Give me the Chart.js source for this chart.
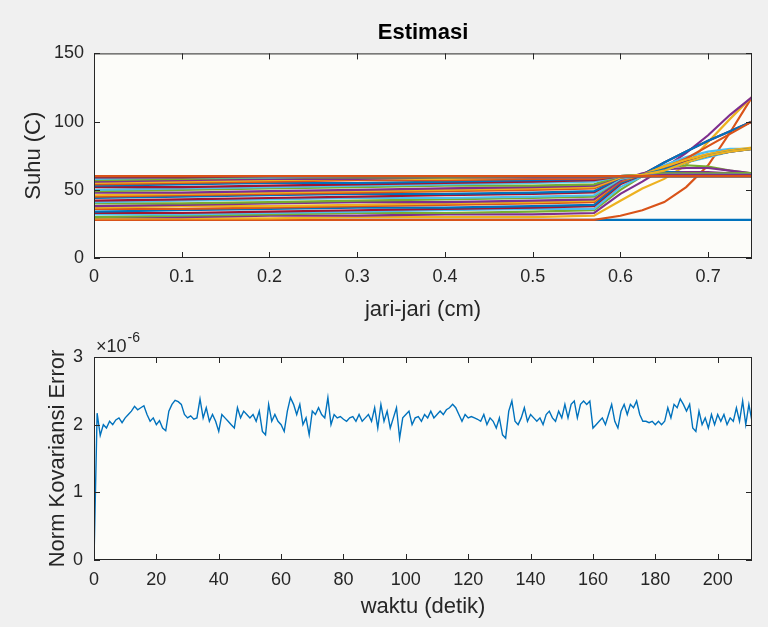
<!DOCTYPE html>
<html>
<head>
<meta charset="utf-8">
<title>Estimasi</title>
<script src="https://cdn.jsdelivr.net/npm/chart.js@4.4.1/dist/chart.umd.min.js"></script>
<style>
    html, body { margin: 0; padding: 0; background: #f0f0f0; }
    #wrap { position: relative; width: 768px; height: 627px; }
    canvas { position: absolute; left: 0; }
</style>
</head>
<body>
<div id="wrap">
    <canvas id="suhuChart" width="768" height="330" style="top:0"></canvas>
    <canvas id="errorChart" width="768" height="297" style="top:330px"></canvas>
</div>
<script>
// Jari-jari (cm) grid for the temperature profiles
const jariJari = [0, 0.1, 0.2, 0.3, 0.4, 0.5, 0.57, 0.6, 0.625, 0.65, 0.675, 0.7, 0.725, 0.75];

// Temperature profiles (C), one row per estimate
const profilSuhu = [
    [28, 28, 28, 28, 28, 28, 28, 28, 28, 28, 28, 28, 28, 28],
    [28, 28, 28, 28, 28, 28, 28, 31, 35, 41, 52, 68, 92, 118],
    [29, 29, 29, 30, 30, 30, 31, 42, 51, 58, 68, 85, 102, 118],
    [30, 30, 31, 31, 32, 32, 33, 47, 56, 66, 77, 90, 105, 118],
    [30, 31, 32, 33, 33, 34, 35, 50, 60, 66, 68, 67, 64, 62],
    [32, 32, 33, 34, 35, 36, 36, 52, 60, 68, 74, 78, 80, 80],
    [33, 33, 34, 35, 36, 37, 38, 54, 61, 70, 78, 86, 93, 100],
    [34, 35, 36, 37, 37, 38, 39, 55, 61, 70, 78, 86, 93, 100],
    [36, 36, 37, 38, 39, 40, 41, 56, 61, 67, 72, 76, 79, 80],
    [37, 38, 38, 39, 40, 41, 42, 57, 61, 67, 72, 76, 79, 81],
    [38, 39, 40, 41, 41, 42, 43, 57, 62, 65, 66, 66, 64, 62],
    [40, 40, 41, 42, 43, 44, 45, 58, 61, 62, 62, 62, 62, 62],
    [41, 42, 43, 44, 44, 45, 46, 58, 61, 64, 70, 74, 78, 80],
    [42, 43, 44, 45, 46, 47, 48, 59, 61, 66, 71, 75, 78, 80],
    [44, 45, 46, 47, 47, 48, 49, 59, 61, 63, 63, 62, 61, 61],
    [45, 46, 47, 48, 49, 50, 51, 59, 60, 66, 73, 82, 91, 100],
    [46, 47, 48, 49, 50, 51, 52, 59, 61, 67, 72, 76, 79, 80],
    [48, 48, 49, 50, 51, 52, 53, 60, 61, 62, 63, 63, 62, 61],
    [49, 50, 51, 52, 53, 53, 54, 60, 61, 62, 62, 62, 62, 62],
    [50, 51, 52, 53, 54, 55, 56, 60, 60, 61, 61, 61, 61, 61],
    [52, 52, 53, 54, 55, 56, 57, 60, 60, 60, 60, 60, 60, 60],
    [53, 54, 55, 55, 56, 57, 58, 60, 61, 65, 70, 75, 78, 80],
    [54, 55, 56, 57, 57, 58, 58, 60, 60, 60, 60, 60, 60, 60],
    [55, 56, 57, 58, 58, 59, 59, 60, 61, 64, 70, 75, 78, 80],
    [56, 57, 58, 58, 59, 59, 59, 60, 60, 61, 61, 61, 61, 61],
    [57, 58, 59, 59, 59, 60, 60, 60, 60, 60, 60, 60, 60, 60],
    [58, 59, 59, 60, 60, 60, 60, 60, 60, 60, 60, 60, 60, 60],
    [59, 59, 60, 60, 60, 60, 60, 60, 60, 60, 60, 60, 60, 60],
    [60, 60, 60, 60, 60, 60, 60, 60, 60, 60, 60, 60, 60, 60],
    [60, 60, 60, 60, 60, 60, 60, 60, 60, 60, 60, 60, 60, 60]
];

// Norm kovariansi error (x 1e-6), one value per second, t = 0..211
const normKovarian = [
    0, 2.17, 1.84, 2.0, 1.95, 2.05, 2.0, 2.07, 2.1, 2.03,
    2.1, 2.15, 2.2, 2.27, 2.22, 2.25, 2.28, 2.15, 2.05, 2.1,
    2.0, 2.06, 1.95, 1.91, 2.2, 2.3, 2.36, 2.34, 2.3, 2.15,
    2.1, 2.13, 2.08, 2.1, 2.38, 2.1, 2.25, 2.05, 2.15, 2.05,
    1.9, 2.15, 2.1, 2.05, 2.0, 1.95, 2.25, 2.1, 2.2, 2.15,
    2.1, 2.15, 2.05, 2.2, 1.9, 1.85, 2.3, 2.05, 2.15, 2.05,
    2.0, 1.9, 2.2, 2.4, 2.3, 2.15, 2.3, 2.0, 2.1, 1.85,
    2.2, 2.15, 2.25, 2.15, 2.1, 2.4, 2.0, 2.15, 2.1, 2.12,
    2.08, 2.05, 2.1, 2.12, 2.05, 2.15, 2.05, 2.1, 2.15, 2.05,
    2.25, 1.95, 2.3, 2.05, 2.2, 1.95, 2.1, 2.25, 1.8, 2.1,
    2.15, 2.2, 2.0, 2.1, 2.12, 2.05, 2.15, 2.1, 2.2, 2.1,
    2.15, 2.2, 2.15, 2.22, 2.25, 2.3, 2.25, 2.15, 2.05, 2.15,
    2.1, 2.12, 2.1, 2.08, 2.05, 2.15, 2.0, 2.1, 2.05, 1.95,
    2.1, 1.85, 1.8, 2.2, 2.35, 2.05, 2.0, 2.1, 2.25, 2.05,
    2.15, 2.1, 2.05, 2.1, 2.0, 2.15, 2.2, 2.1, 2.05, 2.2,
    2.1, 2.3, 2.1, 2.3, 2.35, 2.1, 2.3, 2.35, 2.3, 2.35,
    1.95, 2.0, 2.05, 2.1, 2.0, 2.15, 2.3, 2.05, 1.95, 2.2,
    2.3, 2.15, 2.3, 2.25, 2.35, 2.15, 2.05, 2.05, 2.03, 2.05,
    2.0, 2.05, 2.0, 2.05, 2.25, 2.1, 2.3, 2.25, 2.38, 2.3,
    2.2, 2.3, 1.95, 1.9, 2.2, 2.0, 2.1, 1.95, 2.15, 2.0,
    2.15, 2.05, 2.15, 2.0, 2.1, 2.05, 2.25, 2.05, 2.35, 2.0,
    2.3, 2.05
];

// Tick labels
const jariTicks = [0, 0.1, 0.2, 0.3, 0.4, 0.5, 0.6, 0.7];
const suhuTicks = [0, 50, 100, 150];
const waktuTicks = [0, 20, 40, 60, 80, 100, 120, 140, 160, 180, 200];
const errorTicks = [0, 1, 2, 3];

// MATLAB default line colors
const matlabColors = ['#0072BD', '#D95319', '#EDB120', '#7E2F8E', '#77AC30', '#4DBEEE', '#A2142F'];

const FONT = 'Liberation Sans, Arial, Helvetica, sans-serif';
const TEXT_COLOR = '#262626';

// Plot background, box and inward ticks like a MATLAB axes
const matlabAxes = {
    id: 'matlabAxes',
    beforeDatasetsDraw(chart) {
        const { ctx, chartArea: a } = chart;
        ctx.save();
        ctx.fillStyle = '#fcfcf9';
        ctx.fillRect(a.left, a.top, a.right - a.left, a.bottom - a.top);
        ctx.restore();
    },
    afterDatasetsDraw(chart, args, opts) {
        const { ctx, chartArea: a, scales } = chart;
        const len = 6;
        ctx.save();
        ctx.strokeStyle = TEXT_COLOR;
        ctx.lineWidth = 1;
        ctx.strokeRect(a.left + 0.5, a.top + 0.5, a.right - a.left - 1, a.bottom - a.top - 1);
        ctx.beginPath();
        scales.x.ticks.forEach(t => {
            const px = Math.round(scales.x.getPixelForValue(t.value)) + 0.5;
            ctx.moveTo(px, a.bottom); ctx.lineTo(px, a.bottom - len);
            ctx.moveTo(px, a.top); ctx.lineTo(px, a.top + len);
        });
        scales.y.ticks.forEach(t => {
            const py = Math.round(scales.y.getPixelForValue(t.value)) + 0.5;
            ctx.moveTo(a.left, py); ctx.lineTo(a.left + len, py);
            ctx.moveTo(a.right, py); ctx.lineTo(a.right - len, py);
        });
        ctx.stroke();

        // exponent label above the y axis
        if (opts.exponent) {
            ctx.fillStyle = TEXT_COLOR;
            ctx.textBaseline = 'alphabetic';
            ctx.textAlign = 'left';
            ctx.font = '18px ' + FONT;
            ctx.fillText('\u00d710', a.left + 2, a.top - 5);
            const w = ctx.measureText('\u00d710').width;
            ctx.font = '14px ' + FONT;
            ctx.fillText(opts.exponent, a.left + 3 + w, a.top - 15);
        }
        ctx.restore();
    }
};

function tickFont() {
    return { family: FONT, size: 18 };
}

function titleFont() {
    return { family: FONT, size: 22 };
}

// Top chart: Estimasi
const suhuDatasets = profilSuhu.map((row, i) => ({
    label: 'profil ' + (i + 1),
    data: row.map((v, j) => ({ x: jariJari[j], y: v })),
    borderColor: matlabColors[i % matlabColors.length],
    borderWidth: 2.2,
    pointRadius: 0,
    tension: 0,
    order: profilSuhu.length - i
}));

new Chart(document.getElementById('suhuChart'), {
    type: 'line',
    data: { datasets: suhuDatasets },
    plugins: [matlabAxes],
    options: {
        responsive: false,
        animation: false,
        layout: { padding: { left: 0, right: 16, top: 0, bottom: 0 } },
        plugins: {
            legend: { display: false },
            tooltip: { enabled: false },
            title: {
                display: true,
                text: 'Estimasi',
                fullSize: false,
                color: '#000',
                font: { family: FONT, size: 22, weight: 'bold' },
                padding: { top: 20, bottom: 7 }
            },
            matlabAxes: {}
        },
        scales: {
            x: {
                type: 'linear',
                min: 0,
                max: 0.75,
                grid: { display: false, drawTicks: false },
                border: { display: false },
                afterBuildTicks: s => { s.ticks = jariTicks.map(v => ({ value: v })); },
                ticks: { color: TEXT_COLOR, font: tickFont(), padding: 8, maxRotation: 0, autoSkip: false, callback: v => String(v) },
                title: { display: true, text: 'jari-jari (cm)', color: TEXT_COLOR, font: titleFont(), padding: { top: 2, bottom: 7 } },
                afterFit: s => { s.height = 72; }
            },
            y: {
                type: 'linear',
                min: 0,
                max: 150,
                grid: { display: false, drawTicks: false },
                border: { display: false },
                afterBuildTicks: s => { s.ticks = suhuTicks.map(v => ({ value: v })); },
                ticks: { color: TEXT_COLOR, font: tickFont(), padding: 10, callback: v => String(v) },
                title: { display: true, text: 'Suhu (C)', color: TEXT_COLOR, font: titleFont(), padding: { top: 21, bottom: 0 } },
                afterFit: s => { s.width = 94; }
            }
        }
    }
});

// Bottom chart: norm kovariansi error
const errorPoints = normKovarian.map((v, t) => ({ x: t, y: v }));

new Chart(document.getElementById('errorChart'), {
    type: 'line',
    data: {
        datasets: [{
            label: 'Norm Kovariansi Error',
            data: errorPoints,
            borderColor: '#0072BD',
            borderWidth: 1.4,
            pointRadius: 0,
            tension: 0
        }]
    },
    plugins: [matlabAxes],
    options: {
        responsive: false,
        animation: false,
        layout: { padding: { left: 0, right: 16, top: 27, bottom: 0 } },
        plugins: {
            legend: { display: false },
            tooltip: { enabled: false },
            matlabAxes: { exponent: '-6' }
        },
        scales: {
            x: {
                type: 'linear',
                min: 0,
                max: 211,
                grid: { display: false, drawTicks: false },
                border: { display: false },
                afterBuildTicks: s => { s.ticks = waktuTicks.map(v => ({ value: v })); },
                ticks: { color: TEXT_COLOR, font: tickFont(), padding: 9, maxRotation: 0, autoSkip: false, callback: v => String(v) },
                title: { display: true, text: 'waktu (detik)', color: TEXT_COLOR, font: titleFont(), padding: { top: 2, bottom: 7 } },
                afterFit: s => { s.height = 67; }
            },
            y: {
                type: 'linear',
                min: 0,
                max: 3,
                grid: { display: false, drawTicks: false },
                border: { display: false },
                afterBuildTicks: s => { s.ticks = errorTicks.map(v => ({ value: v })); },
                ticks: { color: TEXT_COLOR, font: tickFont(), padding: 11, callback: v => String(v) },
                title: { display: true, text: 'Norm Kovariansi Error', color: TEXT_COLOR, font: titleFont(), padding: { top: 45, bottom: 0 } },
                afterFit: s => { s.width = 94; }
            }
        }
    }
});
</script>
</body>
</html>
